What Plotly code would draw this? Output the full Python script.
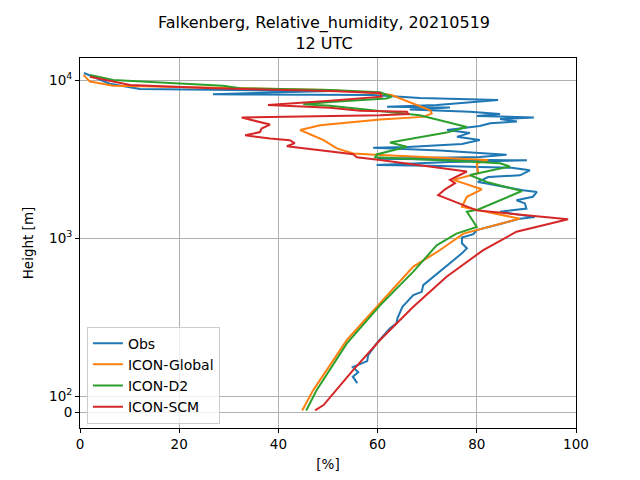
import numpy as np
import plotly.graph_objects as go

# Relative humidity profiles (value in %, height in m)
obs_rh = [55.9, 55.0, 56.1, 55.0, 57.9, 58.1, 59.8, 61.8, 62.5, 63.8, 64.0, 65.0, 67.2, 68.9, 69.2,
          77.0, 78.0, 77.0, 77.0, 79.3, 80.0, 84.7, 88.7, 91.7, 84.7, 90.0, 89.7, 88.0, 91.3, 92.1,
          89.3, 82.0, 80.2, 82.3, 88.7, 90.7, 87.0, 70.6, 59.8, 74.6, 90.1, 59.9, 80.6, 86.0, 78.0,
          72.6, 59.1, 66.0, 77.0, 80.6, 76.0, 78.6, 74.0, 77.0, 80.6, 82.7, 88.1, 84.7, 91.5, 80.0,
          84.7, 78.6, 66.5, 74.6, 61.9, 72.0, 79.0, 84.3, 68.5, 65.0, 59.1, 33.0, 26.8, 50.4, 12.1,
          6.0, 2.0, 0.8]
obs_h = [121, 133, 142, 153, 167, 182, 216, 256, 269, 289, 311, 368, 437, 458, 505,
         802, 864, 929, 1010, 1060, 1127, 1230, 1330, 1360, 1470, 1540, 1660, 1740, 1830, 1960,
         2010, 2220, 2270, 2440, 2500, 2690, 2790, 2870, 2910, 3040, 3110, 3180, 3270, 3370, 3520,
         3590, 3740, 3780, 3950, 4190, 4380, 4640, 4840, 4980, 5130, 5340, 5480, 5680, 5810, 5935,
         6100, 6320, 6520, 6710, 6800, 6980, 7280, 7494, 7720, 7866, 8060, 8130, 8150, 8550, 8790,
         9500, 10800, 11100]

glob_rh = [44.8, 47.0, 53.8, 60.5, 67.2, 72.6, 77.3, 88.7, 80.0, 77.0, 78.0, 81.0, 75.3, 80.3,
           80.0, 82.3, 59.5, 55.1, 51.8, 49.1, 44.4, 48.4, 60.5, 69.2, 70.9, 70.6, 62.8, 59.8,
           50.4, 20.2, 6.7, 2.0, 0.7]
glob_h = [10, 109, 227, 387, 661, 842, 1070, 1330, 1500, 1580, 1830, 2040, 2340, 2580,
          2980, 3130, 3370, 3440, 3700, 4180, 4840, 5190, 5640, 5860, 6150, 6450, 8050, 8260,
          8670, 9020, 9230, 9800, 10800]

d2_rh = [45.6, 47.7, 53.8, 60.5, 67.2, 71.9, 75.9, 80.0, 78.0, 80.3, 89.1, 82.0, 78.6, 86.7,
         84.7, 79.3, 59.5, 59.8, 65.9, 62.5, 73.9, 78.0, 68.5, 57.1, 50.4, 45.0, 50.4, 61.8,
         62.8, 60.5, 50.4, 32.3, 28.8, 6.7, 2.0]
d2_h = [10, 109, 216, 376, 614, 902, 1070, 1180, 1470, 1520, 1990, 2270, 2510, 2840,
        2980, 3050, 3250, 3390, 3790, 4030, 4660, 5060, 6000, 6540, 6890, 7040, 7290, 7660,
        7860, 8380, 8670, 8890, 9220, 10030, 10800]

scm_rh = [47.4, 49.1, 55.1, 60.5, 67.2, 73.9, 81.3, 88.0, 98.4, 90.1, 80.0, 72.2, 73.6, 75.6,
          74.6, 77.0, 78.0, 60.5, 55.8, 55.1, 41.7, 43.3, 42.3, 38.3, 33.3, 36.3, 36.6, 38.3,
          32.6, 60.5, 66.2, 65.9, 56.5, 50.4, 37.9, 50.4, 60.8, 60.5, 50.4, 26.8, 10.1, 2.0]
scm_h = [10, 44, 147, 227, 368, 571, 841, 1100, 1320, 1400, 1500, 1870, 2040, 2230,
         2340, 2550, 2640, 3126, 3250, 3400, 3820, 4000, 4170, 4270, 4480, 4700, 4940, 5240,
         5800, 6000, 6100, 6320, 6410, 6700, 6970, 7420, 7870, 8300, 8550, 8890, 9330, 10500]

series = [("Obs", obs_rh, obs_h, "#1f77b4"),
          ("ICON-Global", glob_rh, glob_h, "#ff7f0e"),
          ("ICON-D2", d2_rh, d2_h, "#2ca02c"),
          ("ICON-SCM", scm_rh, scm_h, "#d62728")]


# symlog-like height axis: linear below 100 m, logarithmic above
def symlog(h):
    h = np.asarray(h, dtype=float)
    return np.where(h < 100, h / 1000.0, np.log10(np.maximum(h, 100)) - 1.9)


fig = go.Figure()
for name, rh, h, col in series:
    fig.add_trace(go.Scatter(x=rh, y=symlog(h), mode="lines", name=name,
                             line=dict(color=col, width=2)))

# page body has an 8px margin, so the figure is a bit smaller than the window
fig.update_layout(
    width=632, height=472,
    margin=dict(l=72, r=64, t=50, b=52),
    paper_bgcolor="white", plot_bgcolor="white",
    font=dict(family="DejaVu Sans", size=13.5, color="black"),
    title=dict(text="Falkenberg, Relative_humidity, 20210519<br>12 UTC",
               x=0.5, xanchor="center", y=0.957, yanchor="middle",
               font=dict(size=16)),
    showlegend=True,
    legend=dict(x=0.014, y=0.012, xanchor="left", yanchor="bottom",
                bgcolor="rgba(255,255,255,0.8)", bordercolor="#cccccc", borderwidth=1,
                font=dict(size=14), tracegroupgap=0),
)
fig.update_xaxes(range=[0, 100], tickvals=[0, 20, 40, 60, 80, 100],
                 showgrid=True, gridcolor="#b0b0b0", gridwidth=0.8,
                 showline=True, linecolor="black", linewidth=1, mirror=True,
                 ticks="outside", ticklen=4, tickcolor="black", zeroline=False,
                 automargin=False,
                 title=dict(text="[%]", standoff=8, font=dict(size=13.5)))
fig.update_yaxes(range=[-0.101, 2.2405],
                 tickvals=symlog([0, 100, 1000, 10000]),
                 ticktext=["0", "10<sup>2</sup>", "10<sup>3</sup>", "10<sup>4</sup>"],
                 showgrid=True, gridcolor="#b0b0b0", gridwidth=0.8,
                 showline=True, linecolor="black", linewidth=1, mirror=True,
                 ticks="outside", ticklen=4, tickcolor="black", zeroline=False,
                 automargin=False,
                 title=dict(text="Height [m]", standoff=12, font=dict(size=13.5)))

fig.write_html("out.html")
